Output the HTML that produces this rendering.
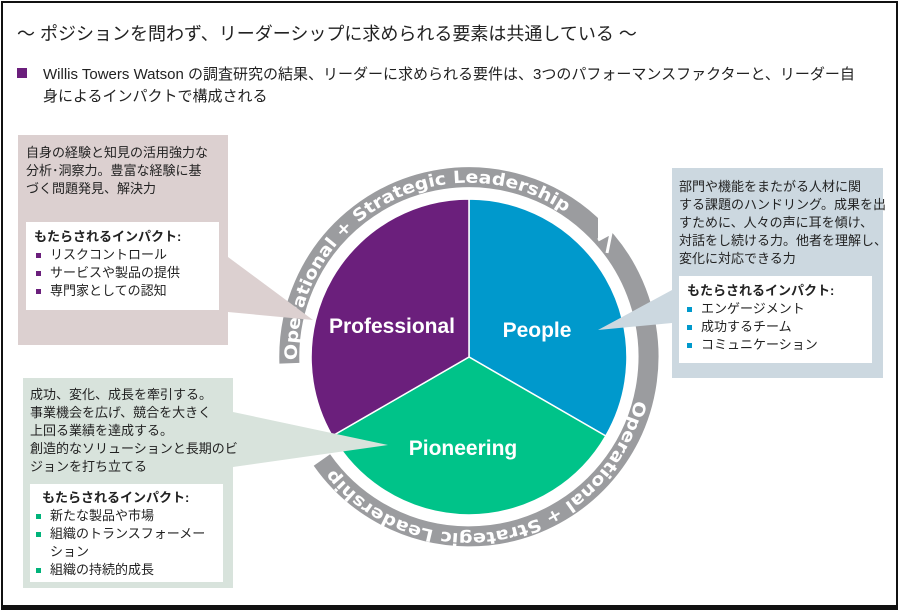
<!DOCTYPE html>
<html><head><meta charset="utf-8"><style>
body{margin:0;background:#fff;}
.w{position:relative;width:900px;height:614px;overflow:hidden;font-family:"Liberation Sans","Noto Sans CJK JP",sans-serif;color:#222;}
.frame{position:absolute;left:1px;top:1px;width:893px;height:602px;border:2px solid #111;border-bottom-width:5px;}
.t{position:absolute;white-space:nowrap;}
.box{position:absolute;}
.inner{position:absolute;background:#fff;}
.txt{position:absolute;font-size:13px;line-height:18px;}
.ul{list-style:none;margin:0;padding:0;}
.ul li{position:relative;padding-left:20px;font-size:13px;line-height:18px;}
.ul li:before{content:"";position:absolute;left:6px;top:7px;width:5px;height:5px;background:#6b1f7c;}
.p2 li:before{background:#00b37a}.p3 li:before{background:#0099cc}
</style></head><body><div class="w">
<div class="frame"></div>
<div class="t" style="left:17px;top:20px;font-size:18px;">～ ポジションを問わず、リーダーシップに求められる要素は共通している ～</div>
<div style="position:absolute;left:17px;top:68px;width:10px;height:10px;background:#6b1f7c"></div>
<div class="t" style="left:43px;top:64px;font-size:15px;line-height:22px;">Willis Towers Watson の調査研究の結果、リーダーに求められる要件は、3つのパフォーマンスファクターと、リーダー自<br>身によるインパクトで構成される</div>

<div class="box" style="left:18px;top:135px;width:210px;height:210px;background:#dcd0d0"></div>
<div class="box" style="left:23px;top:378px;width:210px;height:210px;background:#d8e3dc"></div>
<div class="box" style="left:672px;top:168px;width:211px;height:210px;background:#ccd8e0"></div>

<svg width="900" height="614" style="position:absolute;left:0;top:0">
<g transform="translate(469,357)">
<path d="M -179.6 6.3 A 179.6 179.6 0 1 1 -147.1 103" fill="none" stroke="#9b9c9f" stroke-width="20"/>
</g>
<polygon points="598,200 598,240 611,233 625,200" fill="#fff"/>
<polyline points="598,240 611,233 607,253" fill="none" stroke="#fff" stroke-width="3"/>
<path d="M 469 357 L 469 199 A 158 158 0 0 1 605.8 436 Z" fill="#0099cc" stroke="#fff" stroke-width="1.5"/>
<path d="M 469 357 L 605.8 436 A 158 158 0 0 1 332.2 436 Z" fill="#00c389" stroke="#fff" stroke-width="1.5"/>
<path d="M 469 357 L 332.2 436 A 158 158 0 0 1 469 199 Z" fill="#6b1f7c" stroke="#fff" stroke-width="1.5"/>
<defs>
<path id="tp" d="M 297 360 A 172 172 0 0 1 572 217"/>
<path id="bp" d="M 635 400 A 172 172 0 0 1 330 465"/>
</defs>
<text font-family="DejaVu Sans, sans-serif" font-weight="bold" font-size="17" fill="#fff"><textPath href="#tp" textLength="378" lengthAdjust="spacingAndGlyphs">Operational + Strategic Leadership</textPath></text>
<text font-family="DejaVu Sans, sans-serif" font-weight="bold" font-size="17" fill="#fff"><textPath href="#bp" textLength="385" lengthAdjust="spacingAndGlyphs">Operational + Strategic Leadership</textPath></text>
<polygon points="228,257 228,312 313,320" fill="#dcd0d0"/>
<polygon points="233,412 233,467 388,445" fill="#d8e3dc"/>
<polygon points="672,290 672,323 598,330" fill="#ccd8e0"/>
<g font-family="Liberation Sans, sans-serif" font-weight="bold" font-size="21" fill="#fff" text-anchor="middle">
<text x="392" y="333">Professional</text>
<text x="537" y="337">People</text>
<text x="463" y="455">Pioneering</text>
</g>
</svg>

<div class="txt" style="left:26px;top:144px;">自身の経験と知見の活用強力な<br>分析･洞察力。豊富な経験に基<br>づく問題発見、解決力</div>
<div class="inner" style="left:26px;top:222px;width:193px;height:88px;">
<div style="font-size:13px;font-weight:bold;padding:6px 0 0 8px;line-height:18px;">もたらされるインパクト:</div>
<ul class="ul" style="padding-left:4px"><li>リスクコントロール</li><li>サービスや製品の提供</li><li>専門家としての認知</li></ul>
</div>
<div class="txt" style="left:30px;top:386px;">成功、変化、成長を牽引する。<br>事業機会を広げ、競合を大きく<br>上回る業績を達成する。<br>創造的なソリューションと長期のビ<br>ジョンを打ち立てる</div>
<div class="inner" style="left:30px;top:484px;width:193px;height:98px;">
<div style="font-size:13px;font-weight:bold;padding:5px 0 0 12px;line-height:18px;">もたらされるインパクト:</div>
<ul class="ul p2" style="padding-left:0"><li>新たな製品や市場</li><li>組織のトランスフォーメー<br>ション</li><li>組織の持続的成長</li></ul>
</div>
<div class="txt" style="left:679px;top:178px;">部門や機能をまたがる人材に関<br>する課題のハンドリング。成果を出<br>すために、人々の声に耳を傾け、<br>対話をし続ける力。他者を理解し、<br>変化に対応できる力</div>
<div class="inner" style="left:679px;top:276px;width:193px;height:87px;">
<div style="font-size:13px;font-weight:bold;padding:6px 0 0 8px;line-height:18px;">もたらされるインパクト:</div>
<ul class="ul p3" style="padding-left:2px"><li>エンゲージメント</li><li>成功するチーム</li><li>コミュニケーション</li></ul>
</div>
</div></body></html>
